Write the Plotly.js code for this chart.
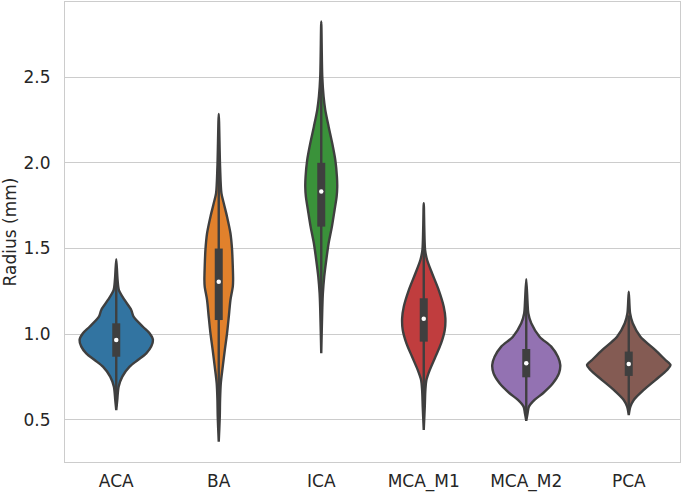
<!DOCTYPE html>
<html>
<head>
<meta charset="utf-8">
<script src="https://cdn.plot.ly/plotly-3.0.1.min.js"></script>
<style>html,body{margin:0;padding:0;background:#fff;}#chart{width:685px;height:492px;}</style>
</head>
<body>
<div id="chart"></div>
<script>
// Categories
const categories = ["ACA", "BA", "ICA", "MCA_M1", "MCA_M2", "PCA"];
const colors = ["#3274a1", "#e1812c", "#3a923a", "#c03d3e", "#9372b2", "#845b53"];

// Violin density profiles: radius levels (mm) and half-widths (category units)
const levelsACA = [1.438, 1.317, 1.258, 1.200, 1.142, 1.103, 1.044, 1.006, 0.967, 0.928, 0.889, 0.850, 0.811, 0.753, 0.694, 0.617, 0.558];
const widthACA  = [0, 0.013, 0.026, 0.081, 0.146, 0.169, 0.260, 0.325, 0.358, 0.341, 0.293, 0.211, 0.130, 0.059, 0.023, 0.010, 0];

const levelsBA = [2.285, 1.978, 1.823, 1.764, 1.686, 1.589, 1.492, 1.394, 1.317, 1.278, 1.200, 1.103, 1.006, 0.908, 0.811, 0.714, 0.617, 0.519, 0.373];
const widthBA  = [0, 0.013, 0.026, 0.049, 0.081, 0.114, 0.130, 0.137, 0.140, 0.137, 0.114, 0.098, 0.081, 0.059, 0.039, 0.020, 0.013, 0.010, 0];

const levelsICA = [2.824, 2.503, 2.386, 2.309, 2.211, 2.114, 2.017, 1.919, 1.861, 1.803, 1.725, 1.628, 1.531, 1.433, 1.336, 1.239, 1.142, 0.889];
const widthICA  = [0, 0.010, 0.023, 0.039, 0.072, 0.107, 0.137, 0.153, 0.156, 0.150, 0.130, 0.104, 0.072, 0.049, 0.029, 0.016, 0.010, 0];

const levelsM1 = [1.764, 1.492, 1.433, 1.356, 1.258, 1.161, 1.093, 1.025, 0.947, 0.869, 0.792, 0.733, 0.675, 0.578, 0.442];
const widthM1  = [0, 0.013, 0.033, 0.081, 0.146, 0.195, 0.211, 0.205, 0.169, 0.114, 0.059, 0.026, 0.016, 0.010, 0];

const levelsM2 = [1.321, 1.181, 1.123, 1.064, 0.986, 0.928, 0.869, 0.821, 0.772, 0.714, 0.656, 0.617, 0.578, 0.539, 0.496];
const widthM2  = [0, 0.013, 0.020, 0.049, 0.130, 0.244, 0.309, 0.332, 0.319, 0.260, 0.163, 0.081, 0.026, 0.013, 0];

const levelsPCA = [1.249, 1.123, 1.064, 0.986, 0.908, 0.850, 0.821, 0.792, 0.733, 0.675, 0.617, 0.578, 0.529];
const widthPCA  = [0, 0.013, 0.039, 0.114, 0.260, 0.358, 0.407, 0.374, 0.260, 0.146, 0.049, 0.016, 0];

// Box summaries (mm)
const q1      = [0.869, 1.083, 1.628, 0.957, 0.749, 0.757];
const median  = [0.967, 1.307, 1.832, 1.091, 0.831, 0.827];
const q3      = [1.064, 1.500, 2.000, 1.210, 0.914, 0.899];
const whiskLo = [0.580, 0.460, 1.080, 0.580, 0.520, 0.545];
const whiskHi = [1.360, 2.100, 2.550, 1.590, 1.200, 1.110];

const levels = [levelsACA, levelsBA, levelsICA, levelsM1, levelsM2, levelsPCA];
const widths = [widthACA, widthBA, widthICA, widthM1, widthM2, widthPCA];

const dark = "#3f3f3f";
const traces = [];
categories.forEach((c, i) => {
  const lv = levels[i], w = widths[i];
  const xs = [], ys = [];
  for (let k = 0; k < lv.length; k++) { xs.push(i + w[k]); ys.push(lv[k]); }
  for (let k = lv.length - 1; k >= 0; k--) { xs.push(i - w[k]); ys.push(lv[k]); }
  traces.push({
    x: xs, y: ys, type: "scatter", mode: "lines", fill: "toself",
    fillcolor: colors[i], line: {color: dark, width: 2.4, shape: "spline", smoothing: 0.8},
    hoverinfo: "skip", showlegend: false, name: c
  });
  traces.push({x: [i, i], y: [whiskLo[i], whiskHi[i]], type: "scatter", mode: "lines",
    line: {color: dark, width: 2.4}, showlegend: false, hoverinfo: "skip"});
  traces.push({x: [i, i], y: [q1[i], q3[i]], type: "scatter", mode: "lines",
    line: {color: dark, width: 8}, showlegend: false, hoverinfo: "skip"});
  traces.push({x: [i], y: [median[i]], type: "scatter", mode: "markers",
    marker: {color: "#ffffff", size: 4.5}, showlegend: false, hoverinfo: "skip"});
});

const layout = {
  width: 685, height: 492,
  margin: {l: 65, r: 5, t: 2, b: 30},
  paper_bgcolor: "#ffffff", plot_bgcolor: "#ffffff",
  font: {family: "DejaVu Sans, sans-serif", size: 17, color: "#262626"},
  showlegend: false,
  xaxis: {
    range: [-0.5, 5.5], tickmode: "array", tickvals: [0, 1, 2, 3, 4, 5], ticktext: categories,
    showgrid: false, zeroline: false, showline: true, mirror: true, linecolor: "#cccccc", linewidth: 1,
    ticks: "outside", ticklen: 4, tickcolor: "rgba(0,0,0,0)"
  },
  yaxis: {
    range: [0.255, 2.938], tickmode: "array", tickvals: [0.5, 1.0, 1.5, 2.0, 2.5],
    ticktext: ["0.5", "1.0", "1.5", "2.0", "2.5"],
    showgrid: true, gridcolor: "#cccccc", gridwidth: 1, zeroline: false,
    showline: true, mirror: true, linecolor: "#cccccc", linewidth: 1,
    ticks: "outside", ticklen: 10, tickcolor: "rgba(0,0,0,0)",
    title: {text: "Radius (mm)", font: {size: 17, color: "#262626"}, standoff: 4}
  }
};

Plotly.newPlot("chart", traces, layout, {displayModeBar: false, staticPlot: true});
</script>
</body>
</html>
